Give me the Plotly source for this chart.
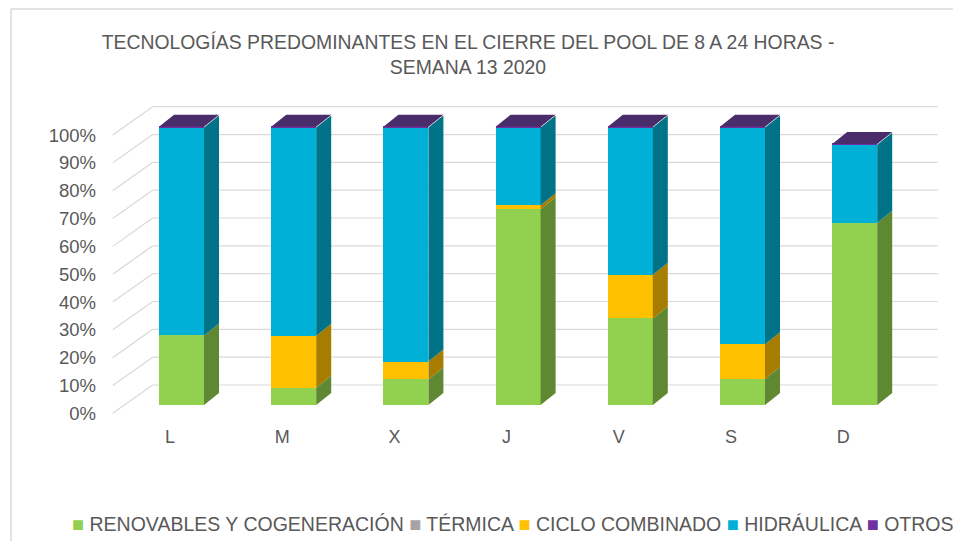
import plotly.graph_objects as go

# ---------------- data ----------------
DAYS = ["L", "M", "X", "J", "V", "S", "D"]
RENOVABLES = [25.0, 6.2, 9.2, 70.3, 31.1, 9.3, 65.5]
TERMICA = [0, 0, 0, 0, 0, 0, 0]
CICLO = [0, 18.7, 6.4, 1.5, 15.7, 12.5, 0]
HIDRAULICA = [74.7, 74.8, 84.1, 27.9, 52.9, 77.9, 28.0]
OTROS = [0.3, 0.3, 0.3, 0.3, 0.3, 0.3, 0.3]
Y_TICKS = [0, 10, 20, 30, 40, 50, 60, 70, 80, 90, 100]
TITLE = "TECNOLOGÍAS PREDOMINANTES EN EL CIERRE DEL POOL DE 8 A 24 HORAS -<br>SEMANA 13 2020"

SERIES = [
    ("RENOVABLES Y COGENERACIÓN", RENOVABLES, "#92D050", "#5F8832"),
    ("TÉRMICA", TERMICA, "#A5A5A5", "#6E6E6E"),
    ("CICLO COMBINADO", CICLO, "#FFC000", "#A67D00"),
    ("HIDRÁULICA", HIDRAULICA, "#00B0D6", "#007388"),
    ("OTROS", OTROS, "#7030A0", "#4B2C6B"),
]
TOP_COLOR = "#4B2C6B"

# ---------------- geometry (style) ----------------
OFF = 8                    # page body margin
W, H = 961 - OFF, 541 - OFF


def sx(px):
    return px - OFF


def sy(py):
    return py - OFF


PLOT_L, PLOT_R, PLOT_T, PLOT_B = sx(100), sx(950), sy(95), sy(420)
L_M, R_M, T_M, B_M = PLOT_L, W - PLOT_R, PLOT_T, H - PLOT_B
PX_PER_X = 112.2          # pixels per category
PX_PER_Y = 2.783          # pixels per percent
X0_PX, Y0_PX = sx(181.5), sy(405)
BAR_W = 45 / PX_PER_X
DX = 15 / PX_PER_X         # depth offset x
DY = 12 / PX_PER_Y         # depth offset y
WALL_DY = 20 / PX_PER_Y    # back wall offset
WALL_X0 = (sx(152.7) - X0_PX) / PX_PER_X
WALL_X1 = (sx(937.7) - X0_PX) / PX_PER_X
FRONT_X = (sx(112.7) - X0_PX) / PX_PER_X
FRONT_DY = -3.0
LABEL_DX = -11.5 / PX_PER_X
GRID = "#D9D9D9"
TXT = "#595959"
FONT = "Liberation Sans, Arial, sans-serif"

x_range = [(PLOT_L - X0_PX) / PX_PER_X, (PLOT_R - X0_PX) / PX_PER_X]
y_range = [(Y0_PX - PLOT_B) / PX_PER_Y, (Y0_PX - PLOT_T) / PX_PER_Y]

fig = go.Figure()
xs = list(range(len(DAYS)))

# front faces
for name, vals, col, _ in SERIES:
    fig.add_trace(go.Bar(x=xs, y=vals, name=name, width=BAR_W,
                         marker=dict(color=col, line=dict(width=0)),
                         showlegend=False, hoverinfo="skip"))

# side faces, computed from stacked values
base = [0.0] * len(DAYS)
for name, vals, col, side in SERIES:
    px_, py_ = [], []
    for i, v in enumerate(vals):
        b, t = base[i], base[i] + v
        if v > 0:
            xr = i + BAR_W / 2
            px_ += [xr, xr + DX, xr + DX, xr, xr, None]
            py_ += [b, b + DY, t + DY, t, b, None]
        base[i] = t
    if px_:
        fig.add_trace(go.Scatter(x=px_, y=py_, mode="lines", fill="toself",
                                 fillcolor=side, line=dict(width=0, color=side),
                                 showlegend=False, hoverinfo="skip"))

# top faces
tx, ty = [], []
for i, tot in enumerate(base):
    xl, xr = i - BAR_W / 2, i + BAR_W / 2
    tx += [xl, xl + DX, xr + DX, xr, xl, None]
    ty += [tot, tot + DY, tot + DY, tot, tot, None]
fig.add_trace(go.Scatter(x=tx, y=ty, mode="lines", fill="toself",
                         fillcolor=TOP_COLOR, line=dict(width=0, color=TOP_COLOR),
                         showlegend=False, hoverinfo="skip"))

# back wall gridlines + side diagonals
shapes = []
for v in Y_TICKS:
    shapes.append(dict(type="line", xref="x", yref="y", layer="below",
                       x0=WALL_X0, x1=WALL_X1, y0=v + WALL_DY, y1=v + WALL_DY,
                       line=dict(color=GRID, width=1.2)))
    shapes.append(dict(type="line", xref="x", yref="y", layer="below",
                       x0=FRONT_X, x1=WALL_X0, y0=v + FRONT_DY, y1=v + WALL_DY,
                       line=dict(color=GRID, width=1.2)))

# chart border (left and top)
pw, ph = PLOT_R - PLOT_L, PLOT_B - PLOT_T


def paper_x(px):
    return (sx(px) - PLOT_L) / pw


def paper_y(py):
    return (PLOT_B - sy(py)) / ph


shapes.append(dict(type="line", xref="paper", yref="paper",
                   x0=paper_x(11), x1=paper_x(11), y0=paper_y(541), y1=paper_y(9),
                   line=dict(color=GRID, width=1.5)))
shapes.append(dict(type="line", xref="paper", yref="paper",
                   x0=paper_x(11), x1=paper_x(961), y0=paper_y(9), y1=paper_y(9),
                   line=dict(color=GRID, width=1.5)))

# legend as text
legend_txt = " ".join(
    f"<span style='color:{col};font-size:20px'>■</span> {name}"
    for name, _, col, _ in SERIES)
annotations = [dict(text=legend_txt, xref="paper", yref="paper",
                    x=paper_x(512.5), y=paper_y(524),
                    xanchor="center", yanchor="middle", showarrow=False,
                    font=dict(family=FONT, size=19.5, color=TXT))]

fig.update_layout(
    width=W, height=H, margin=dict(l=L_M, r=R_M, t=T_M, b=B_M),
    paper_bgcolor="white", plot_bgcolor="white", barmode="stack",
    bargap=0, showlegend=False,
    title=dict(text=TITLE, x=sx(468) / W, xanchor="center", xref="container",
               y=1 - 41 / H, yanchor="top", yref="container",
               font=dict(family=FONT, size=19.4, color=TXT)),
    shapes=shapes, annotations=annotations,
    xaxis=dict(range=x_range, showgrid=False, zeroline=False, showline=False,
               tickvals=[i + LABEL_DX for i in xs], ticktext=DAYS, ticks="",
               ticklabelstandoff=4, tickfont=dict(family=FONT, size=18, color=TXT),
               fixedrange=True),
    yaxis=dict(range=y_range, showgrid=False, zeroline=False, showline=False,
               tickvals=[v + FRONT_DY for v in Y_TICKS],
               ticktext=[f"{v}%" for v in Y_TICKS], ticks="",
               ticklabelstandoff=3, tickfont=dict(family=FONT, size=18.5, color=TXT),
               fixedrange=True),
)

fig.write_html("out.html")
